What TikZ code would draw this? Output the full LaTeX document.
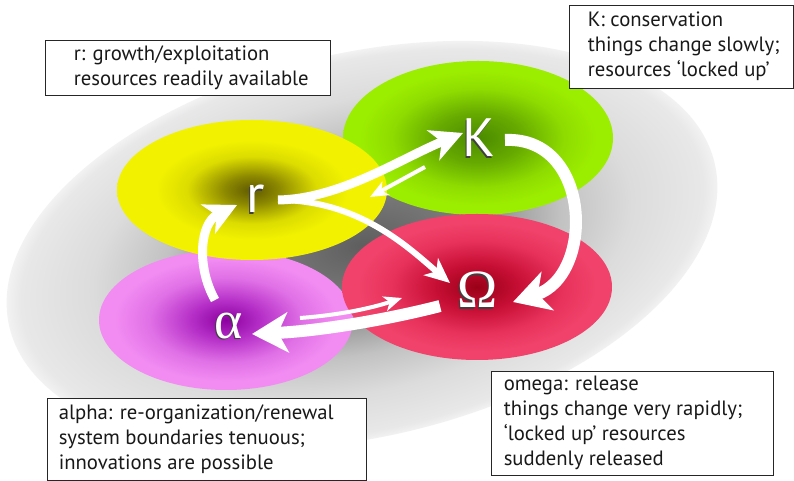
\documentclass[tikz,border=0pt]{standalone}
\usepackage{fontspec}
\setmainfont{PT Sans}
\newfontfamily\greekfont{Liberation Serif}
\usetikzlibrary{arrows.meta,calc}

% colours of the phase blobs (dark core -> light rim)
\definecolor{gA}{HTML}{5E5E5E}\definecolor{gB}{HTML}{7C7C7C}\definecolor{gC}{HTML}{C2C2C2}
\definecolor{gD}{HTML}{DCDCDC}\definecolor{gE}{HTML}{E8E8E8}\definecolor{gF}{HTML}{F2F2F2}
\definecolor{yA}{HTML}{605A00}\definecolor{yB}{HTML}{8C8800}\definecolor{yC}{HTML}{DCDC00}\definecolor{yD}{HTML}{F2F200}
\definecolor{kA}{HTML}{4A8A00}\definecolor{kB}{HTML}{66AA00}\definecolor{kC}{HTML}{8EDC00}\definecolor{kD}{HTML}{9CEE00}
\definecolor{oA}{HTML}{9A0018}\definecolor{oB}{HTML}{C80F35}\definecolor{oC}{HTML}{E8325C}\definecolor{oD}{HTML}{F0426A}
\definecolor{aA}{HTML}{8C00A0}\definecolor{aB}{HTML}{B630C8}\definecolor{aC}{HTML}{E070E6}\definecolor{aD}{HTML}{F28CF2}

\pgfdeclareradialshading{graybowl}{\pgfpoint{0bp}{0bp}}{color(0bp)=(gA); color(7bp)=(gB); color(14bp)=(gC); color(19bp)=(gD); color(24bp)=(gE); color(25bp)=(gF); color(50bp)=(gF)}
\pgfdeclareradialshading{yelblob}{\pgfpoint{0bp}{0bp}}{color(0bp)=(yA); color(5bp)=(yB); color(12bp)=(yC); color(18bp)=(yD); color(50bp)=(yD)}
\pgfdeclareradialshading{grnblob}{\pgfpoint{0bp}{0bp}}{color(0bp)=(kA); color(8bp)=(kB); color(16bp)=(kC); color(22bp)=(kD); color(50bp)=(kD)}
\pgfdeclareradialshading{redblob}{\pgfpoint{0bp}{0bp}}{color(0bp)=(oA); color(8bp)=(oB); color(16bp)=(oC); color(22bp)=(oD); color(50bp)=(oD)}
\pgfdeclareradialshading{magblob}{\pgfpoint{0bp}{0bp}}{color(0bp)=(aA); color(7bp)=(aB); color(15bp)=(aC); color(22bp)=(aD); color(50bp)=(aD)}

\tikzset{
  letter/.style={inner sep=0pt, text=white, font=\fontsize{54}{54}\selectfont},
  gletter/.style={letter, font=\greekfont\fontsize{54}{54}\selectfont},
  bevel/.style={text=black!75},
  frame/.style={draw=black!85, line width=0.9pt, fill=white, inner sep=0pt},
  boxtext/.style={align=left, inner sep=0pt, text=black!90, font=\fontsize{20.7}{24.8}\selectfont},
  bigflow/.style={draw=white, line width=12pt, -{Stealth[length=36pt, width=40pt, inset=10pt]}},
  midflow/.style={draw=white, line width=9pt, -{Stealth[length=32pt, width=32pt, inset=9pt]}},
  slimflow/.style={draw=white, line width=6pt, -{Stealth[length=25pt, width=22pt, inset=7pt]}},
  thinflow/.style={draw=white, line width=4pt, -{Stealth[length=18pt, width=15pt, inset=5pt]}},
}

\begin{document}
\begin{tikzpicture}[x=1pt,y=1pt]
\useasboundingbox (0,0) rectangle (794,481);
\fill[white] (0,0) rectangle (794,481);

% tilted grey bowl behind the cycle
\begin{scope}[transform canvas={rotate around={13:(362,236)}}]
  \shade[shading=graybowl] (362,236) ellipse [x radius=362, y radius=192];
\end{scope}

% the four phase blobs
\shade[shading=grnblob] (478,343) ellipse [x radius=135, y radius=77];
\shade[shading=magblob] (226,161) ellipse [x radius=127, y radius=70];
\shade[shading=yelblob] (252,291) ellipse [x radius=135, y radius=70];
\shade[shading=redblob] (477,194) ellipse [x radius=135, y radius=73];

% phase letters: a dark bevel copy just below-left, white glyph on top
\node[letter, bevel]  (r-bevel) at (254.6,280.6) {r};
\node[letter, bevel]  (K-bevel) at (477.6,341.6) {K};
\node[gletter, bevel] (O-bevel) at (476.6,189.6) {Ω};
\node[gletter, bevel] (a-bevel) at (227.6,153.6) {α};
\node[letter]  (r) at (256,282) {r};
\node[letter]  (K) at (479,343) {K};
\node[gletter] (O) at (478,191) {Ω};
\node[gletter] (a) at (229,155) {α};

% flows of the adaptive cycle
\draw[midflow]  ($(r)+(22,-1)$) .. controls (340,282) and (400,322) .. ($(K)+(-16,5)$);
\draw[thinflow] ($(K)+(-54,-29)$) -- ($(r)+(114,2)$);
\draw[slimflow] ($(r)+(22,-1)$) .. controls (360,281) and (410,232) .. ($(O)+(-28,7)$);
\draw[bigflow]  ($(K)+(26,-2)$) .. controls (592,345) and (595,205) .. ($(O)+(35,-12)$);
\draw[bigflow]  ($(O)+(-38,-16)$) .. controls (390,162) and (320,150) .. ($(a)+(23,-8)$);
\draw[thinflow] ($(a)+(71,8)$) .. controls (340,166) and (372,173) .. ($(O)+(-76,-8)$);
\draw[midflow]  ($(a)+(-14,26)$) .. controls (196,215) and (200,258) .. ($(r)+(-19,-6)$);

% captions
\node[frame, minimum width=285, minimum height=55] (rbox) at (187.5,413.5) {};
\node[boxtext, anchor=west] (rtext) at ([xshift=29]rbox.west)
  {r: growth/exploitation\\resources readily available};

\node[frame, minimum width=224, minimum height=83] (kbox) at (681,434.5) {};
\node[boxtext, anchor=west] (ktext) at ([xshift=19]kbox.west)
  {K: conservation\\things change slowly;\\resources ‘locked up’};

\node[frame, minimum width=319, minimum height=82] (abox) at (206.5,42) {};
\node[boxtext, anchor=west] (atext) at ([xshift=12]abox.west)
  {alpha: re-organization/renewal\\system boundaries tenuous;\\innovations are possible};

\node[frame, minimum width=282, minimum height=104] (obox) at (632,58) {};
\node[boxtext, anchor=west] (otext) at ([xshift=13]obox.west)
  {omega: release\\things change very rapidly;\\‘locked up’ resources\\suddenly released};
\end{tikzpicture}
\end{document}
